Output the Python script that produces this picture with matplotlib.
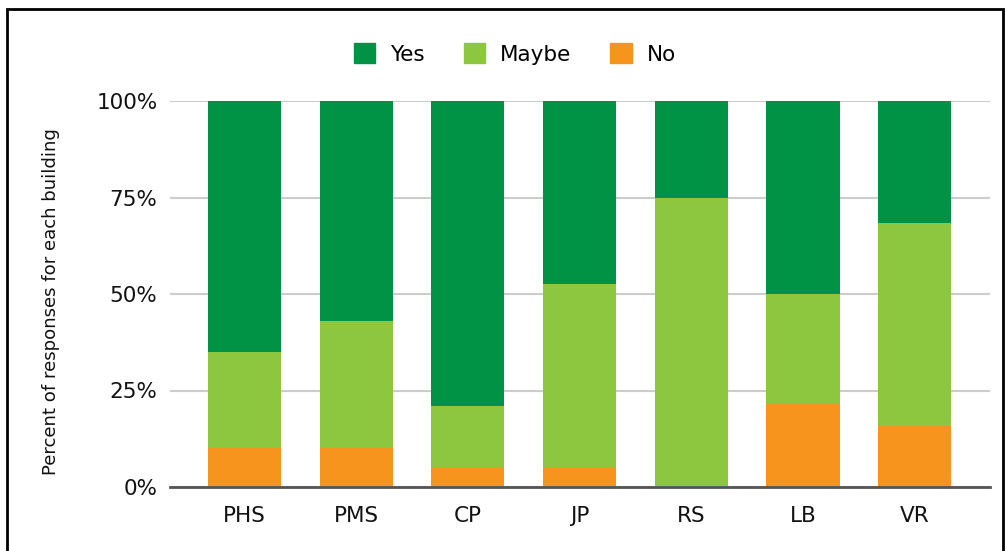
import matplotlib
matplotlib.use("Agg")
import matplotlib.pyplot as plt
from matplotlib.patches import Rectangle, Patch
import numpy as np

buildings = ["PHS", "PMS", "CP", "JP", "RS", "LB", "VR"]
no_pct = [10.0, 10.0, 5.3, 5.3, 0.0, 21.4, 15.8]
maybe_pct = [25.0, 33.0, 15.8, 47.4, 75.0, 28.6, 52.6]
yes_pct = [65.0, 57.0, 78.9, 47.3, 25.0, 50.0, 31.6]

colors = {"Yes": "#009245", "Maybe": "#8DC63F", "No": "#F7941D"}
yticks = [0, 25, 50, 75, 100]
ytick_labels = ["0%", "25%", "50%", "75%", "100%"]

W, H = 1006, 551
fig = plt.figure(figsize=(W / 100, H / 100), dpi=100)
ax = fig.add_axes([170 / W, 1 - 487 / H, 820 / W, 386 / H])

x = np.arange(len(buildings))
no = np.array(no_pct)
maybe = np.array(maybe_pct)
yes = np.array(yes_pct)
bw = 0.654
ax.bar(x, no, bw, color=colors["No"], zorder=3)
ax.bar(x, maybe, bw, bottom=no, color=colors["Maybe"], zorder=3)
ax.bar(x, yes, bw, bottom=no + maybe, color=colors["Yes"], zorder=3)

ax.set_xlim(-0.667, 6.674)
ax.set_ylim(0, 100)
ax.set_yticks(yticks)
ax.set_yticklabels(ytick_labels)
ax.set_xticks(x)
ax.set_xticklabels(buildings)
ax.tick_params(axis="both", length=0, labelsize=15.5, colors="#111111")
ax.tick_params(axis="y", pad=9)
ax.tick_params(axis="x", pad=14)
for s in ["top", "right", "left"]:
    ax.spines[s].set_visible(False)
ax.spines["bottom"].set_color("#555555")
ax.spines["bottom"].set_linewidth(2)
ax.spines["bottom"].set_zorder(4)
ax.yaxis.grid(True, color="#cccccc", linewidth=1.5, zorder=0)
ax.set_axisbelow(True)

ax.set_ylabel("Percent of responses for each building", fontsize=13.1, color="#111111")
ax.yaxis.set_label_coords(-110 / 820, 0.5 - 7.5 / 386)

handles = [Patch(facecolor=colors[k], edgecolor=colors[k]) for k in ["Yes", "Maybe", "No"]]
fig.legend(handles, ["Yes", "Maybe", "No"], loc="center", bbox_to_anchor=(515 / W, 1 - 54 / H),
           ncol=3, frameon=False, fontsize=15.5, handlelength=1.0, handleheight=1.0,
           handletextpad=0.7, columnspacing=1.8)

fig.patches.append(Rectangle((7 / W, -0.05), (1003 - 7) / W, 1.05 - 9 / H, transform=fig.transFigure,
                             fill=False, edgecolor="black", linewidth=2))

fig.savefig("out.png", dpi=100)
